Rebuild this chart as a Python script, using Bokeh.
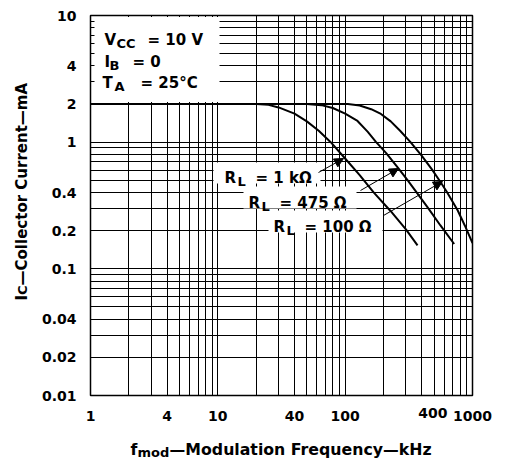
import math
from bokeh.plotting import figure
from bokeh.models import FixedTicker, Label, Arrow, NormalHead, BoxAnnotation, LogAxis
from bokeh.embed import file_html
from bokeh.resources import INLINE

# ---------------- data ----------------
x_ticks = [1, 4, 10, 40, 100, 400, 1000]
x_tick_labels = ["1", "4", "10", "40", "100", "400", "1000"]
x_minor = [2, 3, 5, 6, 7, 8, 9, 20, 30, 50, 60, 70, 80, 90,
           200, 300, 500, 600, 700, 800, 900]
y_ticks = [0.01, 0.02, 0.04, 0.1, 0.2, 0.4, 1, 2, 4, 10]
y_tick_labels = ["0.01", "0.02", "0.04", "0.1", "0.2", "0.4", "1", "2", "4", "10"]
y_minor = [0.03, 0.05, 0.06, 0.07, 0.08, 0.09, 0.3, 0.5, 0.6, 0.7, 0.8, 0.9,
           3, 5, 6, 7, 8, 9]

# R_L = 1 kOhm
f_1k = [1, 20, 25, 30, 40, 50, 62, 77, 98, 130, 168, 228, 300, 370]
ic_1k = [2, 2, 1.97, 1.88, 1.68, 1.46, 1.23, 1.0, 0.76, 0.55, 0.40, 0.285, 0.205, 0.153]
# R_L = 475 Ohm
f_475 = [1, 50, 65, 80, 100, 125, 150, 175, 210, 262, 310, 365, 450, 560, 718]
ic_475 = [2, 2, 1.96, 1.86, 1.68, 1.47, 1.21, 1.0, 0.82, 0.62, 0.50, 0.40, 0.30, 0.22, 0.157]
# R_L = 100 Ohm
f_100 = [1, 105, 130, 160, 191, 228, 270, 326, 400, 480, 564, 633, 764, 870, 1000]
ic_100 = [2, 2, 1.95, 1.82, 1.67, 1.46, 1.23, 1.0, 0.78, 0.61, 0.48, 0.40, 0.29, 0.22, 0.16]

# axis titles: (main text, subscript, rest)
x_title = ("f", "mod", "\u2014Modulation Frequency\u2014kHz")
y_title = ("I", "C", "\u2014Collector Current\u2014mA")

# ---------------- layout ----------------
W, H = 506, 461
FL, FT, FW, FH = 90, 15, 382, 380   # frame position in page pixels
X0, X1, Y0, Y1 = 1, 1000, 0.01, 10
FONT = "DejaVu Sans"


def dx(px):
    return 10 ** (math.log10(X0) + (px - FL) / FW * (math.log10(X1) - math.log10(X0)))


def dy(py):
    return 10 ** (math.log10(Y0) + (FT + FH - py) / FH * (math.log10(Y1) - math.log10(Y0)))


p = figure(x_axis_type="log", y_axis_type="log",
           x_range=(X0, X1), y_range=(Y0, Y1),
           frame_width=FW, frame_height=FH,
           min_border_left=FL, min_border_top=FT,
           min_border_right=W - FL - FW,
           min_border_bottom=H - FT - FH,
           output_backend="svg", toolbar_location=None,
           background_fill_color="white", border_fill_color="white")

p.outline_line_color = "black"
p.outline_line_width = 1.5

# the "400" label sits shifted right in the original; it is drawn by its own axis below
SHIFTED = {400: 11}

xa, ya = p.below[0], p.left[0]
xa.ticker = FixedTicker(ticks=x_ticks, minor_ticks=x_minor)
ya.ticker = FixedTicker(ticks=y_ticks, minor_ticks=y_minor)
xa.major_label_overrides = {t: ("" if t in SHIFTED else s) for t, s in zip(x_ticks, x_tick_labels)}
ya.major_label_overrides = dict(zip(y_ticks, y_tick_labels))

for ax in (xa, ya):
    ax.axis_line_color = None
    ax.major_label_text_font = FONT
    ax.major_label_text_font_style = "bold"
    ax.major_label_text_font_size = "14px"
    ax.major_label_text_color = "black"
    ax.major_tick_out = 0
    ax.minor_tick_out = 0
    ax.major_tick_line_color = "black"
    ax.minor_tick_line_color = "black"
ya.major_tick_in = 4
ya.minor_tick_in = 4
xa.major_tick_in = 0
xa.minor_tick_in = 0
ya.major_label_standoff = 14
xa.major_label_standoff = 15

for g in (p.xgrid, p.ygrid):
    g.grid_line_color = "black"
    g.grid_line_width = 1
    g.minor_grid_line_color = "black"
    g.minor_grid_line_width = 1


def text_axis(side, ticks, labels, size, standoff, orient):
    """Extra tick-less axis whose tick labels carry pieces of text."""
    ax = LogAxis(ticker=FixedTicker(ticks=ticks, minor_ticks=[]),
                 major_label_overrides=dict(zip(ticks, labels)),
                 major_label_orientation=orient,
                 major_label_standoff=standoff,
                 major_label_text_font=FONT, major_label_text_font_style="bold",
                 major_label_text_font_size=f"{size}px",
                 major_label_text_color="black",
                 axis_line_color=None, major_tick_line_color=None,
                 minor_tick_line_color=None,
                 major_tick_in=0, major_tick_out=0, minor_tick_in=0, minor_tick_out=0)
    p.add_layout(ax, side)


# x title: big pieces, then subscript (centres in page pixels)
text_axis("below", [round(dx(133.4), 6), round(dx(300.1), 6)],
          [x_title[0], x_title[2]], 15.75, 16, "horizontal")
text_axis("below", [round(dx(152.8), 6)], [x_title[1]], 13, -17, "horizontal")
# shifted tick label(s)
sh_ticks = [round(dx(FL + FW * math.log10(t) / 3 + off), 6) for t, off in SHIFTED.items()]
sh_labels = [x_tick_labels[x_ticks.index(t)] for t in SHIFTED]
text_axis("below", sh_ticks, sh_labels, 14, -55, "horizontal")
# y title
text_axis("left", [round(dy(297.2), 6), round(dy(183.7), 6)],
          [y_title[0], y_title[2]], 15, 7, "parallel")
text_axis("left", [round(dy(289.6), 6)], [y_title[1]], 13, -20, "parallel")

# white blank areas (under the condition text and the curve labels)
blanks = [(91.5, 219, 16.5, 101.5),
          (213, 320, 162, 183),
          (243, 356, 186, 208),
          (268, 382, 210, 232)]
for l, r, t, b in blanks:
    p.add_layout(BoxAnnotation(left=dx(l), right=dx(r), top=dy(t), bottom=dy(b),
                               fill_color="white", fill_alpha=1, line_color=None,
                               level="underlay"))

for fx, iy in ((f_1k, ic_1k), (f_475, ic_475), (f_100, ic_100)):
    p.line(fx, iy, line_color="black", line_width=2)


def put(text, px, py, size=15):
    p.add_layout(Label(x=dx(px), y=dy(py), text=text, text_font=FONT,
                       text_font_style="bold", text_font_size=f"{size}px",
                       text_color="black", text_align="left",
                       text_baseline="alphabetic"))


# condition text
put("V", 104, 39); put("CC", 116, 43, 13); put("= 10 V", 147, 39)
put("I", 104, 61); put("B", 109, 65, 13); put("= 0", 132, 61)
put("T", 102, 82); put("A", 114, 86, 13); put("= 25\u00b0C", 140, 82)

# curve labels
put("R", 224, 177); put("L", 237, 181, 13); put("= 1 k\u03a9", 255, 177)
put("R", 248, 202); put("L", 261, 206, 13); put("= 475 \u03a9", 279, 202)
put("R", 273, 226); put("L", 286, 230, 13); put("= 100 \u03a9", 304, 226)

arrows = [((318, 172), (343, 158)),
          ((360, 190), (398, 168)),
          ((383, 215), (442, 181))]
for (sx, sy), (ex, ey) in arrows:
    p.add_layout(Arrow(x_start=dx(sx), y_start=dy(sy), x_end=dx(ex), y_end=dy(ey),
                       line_color="black", line_width=1,
                       end=NormalHead(size=9, fill_color="black", line_color="black")))

open("out.html", "w").write(file_html(p, INLINE))
